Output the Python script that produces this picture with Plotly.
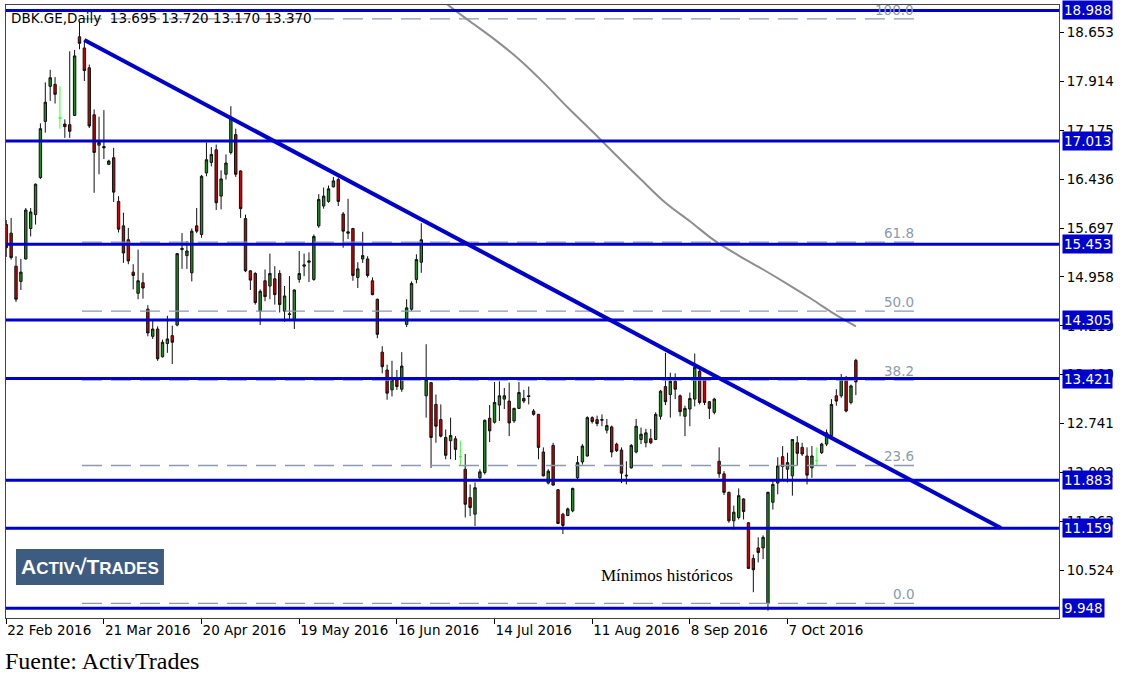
import plotly.graph_objects as go

# ---------------- DATA ----------------
opens = [15.75, 15.62, 15.12, 14.89, 15.23, 15.69, 15.90, 16.46, 17.31, 17.84,
         17.87, 17.36, 17.27, 17.26, 17.40, 18.59, 18.42, 18.12, 17.41, 16.95,
         16.93, 16.66, 16.76, 16.10, 15.73, 15.52, 15.03, 14.71, 14.87, 14.47,
         14.06, 14.17, 13.75, 13.95, 14.07, 14.23, 15.37, 15.28, 15.02, 15.73,
         15.60, 16.53, 16.69, 16.88, 16.18, 16.51, 16.84, 17.11, 16.56, 15.84,
         15.05, 15.01, 14.44, 14.90, 14.82, 14.93, 15.01, 14.44, 14.40, 14.32,
         14.92, 15.12, 15.18, 14.92, 15.73, 16.03, 16.10, 16.32, 16.43, 15.91,
         15.64, 15.69, 14.95, 15.23, 15.23, 14.90, 14.62, 13.82, 13.55, 13.25,
         13.40, 13.26, 14.24, 14.47, 14.92, 15.18, 13.16, 13.36, 13.03, 12.80,
         12.53, 12.48, 12.51, 12.24, 12.05, 11.62, 11.37, 11.92, 12.00, 12.82,
         12.76, 13.02, 13.11, 13.08, 12.78, 12.97, 13.12, 13.16, 12.93, 12.88,
         12.31, 11.84, 12.41, 11.74, 11.37, 11.35, 11.42, 11.92, 12.16, 12.25,
         12.83, 12.80, 12.79, 12.64, 12.69, 12.43, 12.34, 11.96, 12.07, 12.31,
         12.50, 12.45, 12.51, 12.50, 12.85, 13.30, 13.18, 13.38, 13.16, 12.85,
         12.96, 13.11, 13.53, 13.41, 13.07, 12.91, 12.17, 11.98, 11.70, 11.27,
         11.32, 11.60, 11.24, 10.70, 10.86, 10.86, 10.02, 11.55, 11.84, 12.24,
         12.05, 11.95, 12.45, 12.38, 12.25, 12.07, 12.18, 12.30, 12.43, 12.56,
         13.16, 13.16, 13.41, 13.06, 13.695]
highs = [15.82, 15.85, 15.27, 15.23, 16.00, 16.00, 16.37, 17.28, 17.90, 18.09,
         17.98, 17.84, 17.34, 18.37, 18.39, 18.82, 18.54, 18.17, 17.49, 17.38,
         17.48, 16.73, 16.91, 16.18, 15.93, 15.70, 15.15, 15.37, 15.02, 14.53,
         14.31, 14.21, 14.01, 14.37, 14.22, 15.32, 15.62, 15.50, 15.69, 16.00,
         16.50, 16.99, 16.92, 16.96, 16.57, 16.81, 17.54, 17.20, 16.57, 15.90,
         15.06, 15.03, 14.77, 15.07, 15.31, 15.12, 15.06, 14.82, 14.97, 14.77,
         15.35, 15.31, 15.33, 15.60, 16.21, 16.31, 16.34, 16.47, 16.46, 15.94,
         16.14, 15.70, 15.18, 15.64, 15.27, 14.95, 14.63, 13.91, 13.63, 13.69,
         13.55, 13.82, 14.62, 14.89, 15.30, 15.77, 13.94, 13.36, 13.18, 13.03,
         12.65, 12.83, 12.55, 12.48, 12.28, 11.82, 11.85, 12.05, 12.80, 13.02,
         13.37, 13.38, 13.28, 13.36, 12.98, 13.37, 13.25, 13.30, 12.96, 12.88,
         12.38, 12.05, 12.45, 11.75, 11.39, 11.47, 11.77, 12.25, 12.43, 12.85,
         12.85, 12.86, 12.88, 12.81, 12.71, 12.45, 12.38, 12.17, 12.43, 12.81,
         12.68, 12.66, 12.66, 12.91, 13.25, 13.81, 13.51, 13.50, 13.18, 13.01,
         13.21, 13.80, 13.61, 13.43, 13.08, 13.13, 12.38, 12.02, 11.71, 11.50,
         11.76, 11.61, 11.25, 10.76, 11.02, 11.05, 11.71, 11.87, 12.23, 12.40,
         12.30, 12.50, 12.55, 12.45, 12.38, 12.40, 12.38, 12.45, 12.65, 13.11,
         13.26, 13.49, 13.46, 13.33, 13.720]
lows = [15.26, 15.22, 14.58, 14.76, 15.22, 15.57, 15.75, 16.44, 17.14, 17.62,
        17.58, 17.20, 17.06, 17.06, 17.39, 18.40, 17.92, 17.21, 16.23, 16.51,
        16.74, 16.65, 16.09, 15.63, 15.17, 15.15, 14.77, 14.62, 14.63, 14.06,
        14.02, 13.69, 13.74, 13.81, 13.64, 14.21, 15.08, 15.08, 14.89, 15.62,
        15.55, 16.48, 16.63, 15.97, 15.98, 16.43, 16.81, 16.47, 15.85, 15.03,
        14.76, 14.54, 14.23, 14.59, 14.62, 14.54, 14.42, 14.28, 14.29, 14.17,
        14.87, 14.97, 14.88, 14.90, 15.70, 15.99, 16.08, 16.31, 16.03, 15.40,
        15.53, 14.90, 14.79, 15.17, 14.95, 14.68, 14.03, 13.50, 13.10, 13.15,
        13.25, 13.22, 14.20, 14.44, 14.86, 15.02, 12.83, 12.07, 12.45, 12.53,
        12.20, 12.20, 12.19, 12.10, 11.32, 11.34, 11.19, 11.88, 11.97, 12.46,
        12.74, 12.78, 12.96, 12.55, 12.75, 12.96, 13.05, 13.03, 12.86, 12.20,
        11.94, 11.82, 11.80, 11.22, 11.07, 11.34, 11.40, 11.87, 12.12, 12.24,
        12.74, 12.70, 12.70, 12.59, 12.23, 12.31, 11.84, 11.82, 12.06, 12.29,
        12.43, 12.38, 12.43, 12.49, 12.80, 13.02, 12.83, 13.11, 12.85, 12.55,
        12.70, 13.00, 13.03, 13.02, 12.81, 12.88, 11.92, 11.66, 11.24, 11.14,
        11.29, 11.29, 10.54, 10.19, 10.64, 10.69, 9.91, 11.44, 11.67, 11.90,
        11.85, 11.65, 12.10, 12.25, 11.82, 11.92, 12.10, 12.28, 12.40, 12.53,
        13.01, 13.13, 12.91, 13.03, 13.170]
closes = [15.40, 15.25, 14.62, 15.03, 15.97, 15.94, 16.36, 17.20, 17.60, 17.97,
          17.72, 17.36, 17.23, 17.16, 18.30, 18.49, 18.08, 17.24, 16.84, 16.99,
          16.91, 16.71, 16.24, 15.68, 15.32, 15.20, 14.98, 14.90, 14.79, 14.11,
          14.17, 13.72, 13.97, 14.02, 13.97, 15.31, 15.39, 15.35, 15.65, 15.65,
          16.48, 16.73, 16.81, 16.08, 16.44, 16.68, 17.36, 16.51, 15.99, 15.05,
          14.91, 14.57, 14.74, 14.66, 15.01, 14.69, 14.54, 14.67, 14.39, 14.76,
          15.01, 15.14, 15.20, 15.57, 16.13, 16.18, 16.29, 16.41, 16.10, 15.65,
          15.62, 14.98, 15.08, 15.28, 14.98, 14.69, 14.09, 13.60, 13.20, 13.40,
          13.30, 13.61, 14.49, 14.86, 15.22, 15.52, 13.41, 12.53, 12.70, 12.55,
          12.26, 12.56, 12.35, 12.24, 11.52, 11.47, 11.77, 12.01, 12.79, 12.63,
          13.06, 13.16, 13.16, 12.75, 12.97, 13.21, 13.08, 13.15, 12.88, 12.38,
          11.95, 12.02, 11.81, 11.23, 11.20, 11.45, 11.76, 12.15, 12.40, 12.83,
          12.77, 12.74, 12.80, 12.71, 12.31, 12.33, 11.99, 11.95, 12.41, 12.70,
          12.58, 12.60, 12.45, 12.88, 13.23, 13.07, 13.38, 13.26, 12.92, 12.97,
          13.12, 13.59, 13.06, 13.06, 12.97, 13.11, 11.98, 11.70, 11.27, 11.40,
          11.65, 11.41, 10.55, 10.53, 10.79, 11.02, 11.70, 11.82, 12.10, 12.09,
          12.15, 12.50, 12.29, 12.28, 11.96, 12.25, 12.18, 12.43, 12.60, 13.03,
          13.08, 13.41, 12.93, 13.31, 13.370]

date_labels = ["22 Feb 2016", "21 Mar 2016", "20 Apr 2016", "19 May 2016", "16 Jun 2016",
               "14 Jul 2016", "11 Aug 2016", "8 Sep 2016", "7 Oct 2016"]
date_label_bars = [0, 20, 40, 60, 80, 100, 120, 140, 160]

price_ticks = [10.524, 11.263, 12.002, 12.741, 13.480, 14.219, 14.958, 15.697,
               16.436, 17.175, 17.914, 18.653]

levels = [18.988, 17.013, 15.453, 14.305, 13.421, 11.883, 11.159, 9.948]

fib_high = 18.86
fib_low = 10.02
fib_ratios = [1.0, 0.618, 0.5, 0.382, 0.236, 0.0]
fib_names = ["100.0", "61.8", "50.0", "38.2", "23.6", "0.0"]
fib_start_bar = 15.5
fib_end_bar = 186.3

trend_bars = [16, 203.7]
trend_prices = [18.54, 11.16]

ma_bars = [88, 90, 95, 100, 105, 110, 115, 120, 125, 130, 135, 140, 145, 150,
           155, 160, 165, 170, 174]
ma_values = [19.25, 19.10, 18.82, 18.55, 18.25, 17.90, 17.52, 17.16, 16.79, 16.43,
             16.08, 15.80, 15.51, 15.28, 15.07, 14.85, 14.62, 14.38, 14.21]

header = "DBK.GE,Daily  13.695 13.720 13.170 13.370"

# ---------------- STYLE ----------------
BLUE = "#0000CC"
AXIS_FONT = dict(family="DejaVu Sans", size=13.5, color="black")
FIB_COLOR = "#8C9AAD"

bars = list(range(len(opens)))
is_doji = [o == c for o, c in zip(opens, closes)]
nd = [i for i in bars if not is_doji[i]]
dj = [i for i in bars if is_doji[i]]

fig = go.Figure()

# fib dashed lines
for r, name in zip(fib_ratios, fib_names):
    lvl = fib_low + r * (fib_high - fib_low)
    fig.add_trace(go.Scatter(x=[fib_start_bar, fib_end_bar], y=[lvl, lvl], mode="lines",
                             line=dict(color=FIB_COLOR, width=1.3, dash="20px,9px"),
                             hoverinfo="skip", showlegend=False))
    fig.add_annotation(x=fib_end_bar, y=lvl, xref="x", yref="y", text=name,
                       showarrow=False, xanchor="right", yanchor="bottom",
                       font=dict(family="DejaVu Sans", size=13.5, color=FIB_COLOR), yshift=-1)

# moving average
fig.add_trace(go.Scatter(x=ma_bars, y=ma_values, mode="lines", line_shape="spline",
                         line=dict(color="#8E8E8E", width=2), hoverinfo="skip",
                         showlegend=False))

# candles
fig.add_trace(go.Candlestick(
    x=nd, open=[opens[i] for i in nd], high=[highs[i] for i in nd],
    low=[lows[i] for i in nd], close=[closes[i] for i in nd],
    increasing=dict(line=dict(color="#111111", width=1), fillcolor="#1E8C1E"),
    decreasing=dict(line=dict(color="#111111", width=1), fillcolor="#CC0000"),
    showlegend=False))
fig.add_trace(go.Candlestick(
    x=dj, open=[opens[i] for i in dj], high=[highs[i] for i in dj],
    low=[lows[i] for i in dj], close=[closes[i] for i in dj],
    increasing=dict(line=dict(color="#33FF33", width=1), fillcolor="#33FF33"),
    decreasing=dict(line=dict(color="#33FF33", width=1), fillcolor="#33FF33"),
    showlegend=False))

# horizontal levels
for lv in levels:
    fig.add_trace(go.Scatter(x=[-5, 230], y=[lv, lv], mode="lines",
                             line=dict(color=BLUE, width=3), hoverinfo="skip",
                             showlegend=False))
    fig.add_annotation(x=1, y=lv, xref="paper", yref="y", text=f"{lv:.3f}",
                       showarrow=False, xanchor="left", yanchor="middle", xshift=3,
                       bgcolor=BLUE, borderpad=1,
                       font=dict(family="DejaVu Sans", size=13.5, color="white"))

# trend line
fig.add_trace(go.Scatter(x=trend_bars, y=trend_prices, mode="lines",
                         line=dict(color=BLUE, width=4), hoverinfo="skip",
                         showlegend=False))

# header
fig.add_annotation(x=0, y=1, xref="paper", yref="paper", text=header, showarrow=False,
                   xanchor="left", yanchor="top", xshift=3, yshift=-3,
                   font=dict(family="DejaVu Sans", size=13.5, color="black"))

# "Mínimos históricos"
fig.add_annotation(x=121.3, y=10.45, xref="x", yref="y", text="Mínimos históricos",
                   showarrow=False, xanchor="left", yanchor="middle",
                   font=dict(family="Liberation Serif", size=17, color="black"))

# source
fig.add_annotation(x=0, y=0, xref="paper", yref="paper", text="Fuente: ActivTrades",
                   showarrow=False, xanchor="left", yanchor="middle", xshift=-3, yshift=-43,
                   font=dict(family="Liberation Serif", size=24, color="black"))

# logo
fig.add_shape(type="rect", xref="paper", yref="paper", x0=0.0095, x1=0.150,
              y0=0.0539, y1=0.1127, fillcolor="#3E5B80", line=dict(width=0), layer="above")
fig.add_annotation(x=0.0795, y=0.0833, xref="paper", yref="paper",
                   text="<b>A<span style='font-size:17px'>CTIV</span>√T<span style='font-size:17px'>RADES</span></b>",
                   showarrow=False, xanchor="center", yanchor="middle",
                   font=dict(family="Liberation Sans", size=21, color="white"))

fig.update_layout(
    width=1125, height=677,
    margin=dict(l=6, r=66, t=5, b=59, autoexpand=False),
    paper_bgcolor="white", plot_bgcolor="white",
    showlegend=False,
    xaxis=dict(range=[-0.05, 215.6], showgrid=False, zeroline=False,
               rangeslider=dict(visible=False), automargin=False,
               tickmode="array", tickvals=date_label_bars, ticktext=date_labels,
               ticks="outside", ticklen=5, tickcolor="black", tickwidth=1,
               ticklabelposition="outside right",
               showline=True, linecolor="#444444", linewidth=1, mirror=True,
               tickfont=AXIS_FONT, fixedrange=True),
    yaxis=dict(range=[9.80, 19.07], side="right", showgrid=False, zeroline=False,
               automargin=False,
               tickmode="array", tickvals=price_ticks,
               ticktext=[f"{v:.3f}" for v in price_ticks],
               ticks="outside", ticklen=4, tickcolor="black", tickwidth=1,
               showline=True, linecolor="#444444", linewidth=1, mirror=True,
               tickfont=AXIS_FONT, fixedrange=True),
)

fig.write_html("out.html", config={"displayModeBar": False},
               post_script="document.body.style.margin='0';document.body.style.padding='0';")
